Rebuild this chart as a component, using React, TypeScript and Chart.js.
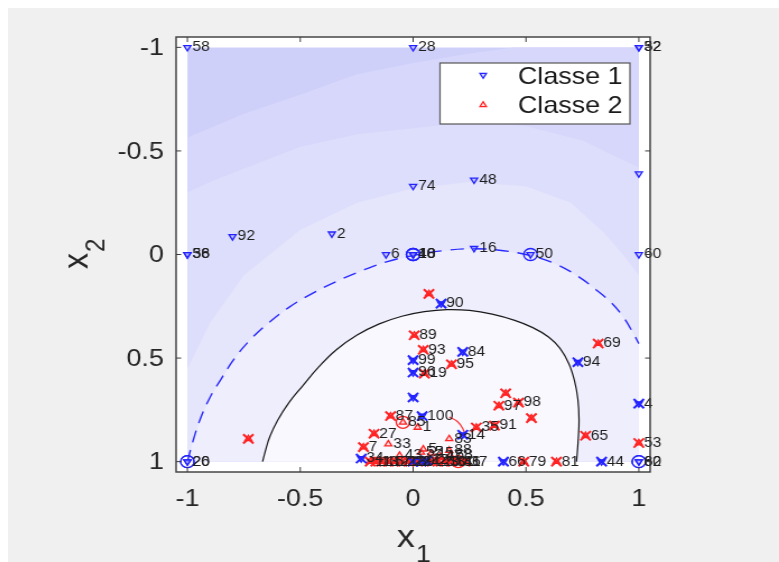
import React, { useEffect, useRef } from 'react';
import { Chart, registerables } from 'chart.js';

Chart.register(...registerables);

// ---------- data ----------
const xTicks = [-1, -0.5, 0, 0.5, 1];
const yTicks = [-1, -0.5, 0, 0.5, 1];
const tickLabels = ['-1', '-0.5', '0', '0.5', '1'];
const legendLabels = ['Classe 1', 'Classe 2'];
const axisTitleX = ['x', '1'];
const axisTitleY = ['x', '2'];

type P = [number, number, string];
type XY = [number, number];

// Classe 1, plain points
const class1Plain: P[] = [
  [-1, -1, '58'], [0, -1, '28'], [1, -1, '32'], [1, -1, '52'], [1, -0.39, ''],
  [0, -0.33, '74'], [0.27, -0.36, '48'], [-0.8, -0.087, '92'], [-0.36, -0.1, '2'],
  [-1, 0, '38'], [-1, 0, '56'], [-0.12, 0, '6'], [0.27, -0.03, '16'], [1, 0, '60'],
];
// Classe 1, circled points
const class1Circled: P[] = [
  [0, 0, '10'], [0, 0, '18'], [0, 0, '40'], [0.52, 0, '50'],
  [-1, 1, '20'], [-1, 1, '26'], [1, 1, '62'], [1, 1, '80'],
];
// Classe 1, support vectors
const class1SV: P[] = [
  [0.124, 0.237, '90'], [0.22, 0.47, '84'], [0.0, 0.51, '99'], [0.0, 0.57, '96'],
  [0.0, 0.69, ''], [0.04, 0.78, '100'], [0.22, 0.87, '14'], [1, 0.72, '4'],
  [0.4, 1, '66'], [0.835, 1, '44'], [-0.23, 0.985, '34'], [0.73, 0.52, '94'],
  [0.0, 1, '3'], [0.035, 1, '9'], [0.06, 0.995, '12'],
];
// Classe 2, plain points
const class2Plain: P[] = [
  [-0.11, 0.915, '33'], [0.02, 0.835, '1'], [0.16, 0.89, '83'], [0.16, 0.946, '88'],
  [0.165, 0.97, '68'], [0.045, 0.94, '5'], [0.035, 0.955, '55'], [0.08, 0.96, '45'],
  [-0.045, 0.81, '85'], [0.2, 1, '41'], [-0.06, 0.97, '43'], [0.12, 0.975, '47'],
];
// Classe 2, support vectors
const class2SV: P[] = [
  [0.07, 0.19, ''], [0.005, 0.39, '89'], [0.045, 0.46, '93'], [0.17, 0.53, '95'],
  [0.05, 0.575, '19'], [0.41, 0.67, ''], [0.38, 0.73, '97'], [0.467, 0.715, '98'],
  [0.524, 0.79, ''], [-0.1, 0.78, '87'], [-0.173, 0.865, '27'], [-0.22, 0.93, '7'],
  [0.28, 0.835, '35'], [0.36, 0.826, '91'], [0.764, 0.875, '65'], [0.82, 0.43, '69'],
  [1, 0.91, '53'], [0.49, 1, '79'], [0.635, 1, '81'], [-0.73, 0.89, ''],
  [-0.19, 1, '11'], [-0.165, 1, '13'], [-0.14, 1, '15'], [-0.11, 1, '17'],
  [-0.08, 1, '21'], [-0.05, 1, '22'], [-0.02, 1, '23'], [0.02, 1, '24'],
  [0.085, 1, '25'], [0.11, 1, '29'], [0.14, 1, '30'], [0.17, 1, '31'],
  [0.2, 1, '36'], [0.23, 1, '37'],
];
const redCircles: XY[] = [[-0.045, 0.81], [0.2, 1]];

// contour lines
const dashedContour: XY[] = [
  [-1, 1], [-0.975, 0.9], [-0.945, 0.8], [-0.9, 0.69], [-0.85, 0.6], [-0.79, 0.5],
  [-0.72, 0.41], [-0.64, 0.33], [-0.55, 0.255], [-0.45, 0.19], [-0.34, 0.13],
  [-0.22, 0.075], [-0.11, 0.033], [0, 0.005], [0.13, -0.018], [0.27, -0.028],
  [0.4, -0.018], [0.52, 0.005], [0.63, 0.045], [0.73, 0.105], [0.81, 0.17],
  [0.88, 0.235], [0.93, 0.3], [0.97, 0.37], [1.0, 0.43],
];
const solidContour: XY[] = [
  [-0.667, 1.0], [-0.655, 0.95], [-0.635, 0.88], [-0.6, 0.8], [-0.55, 0.715],
  [-0.49, 0.635], [-0.42, 0.545], [-0.34, 0.46], [-0.25, 0.39], [-0.15, 0.335],
  [-0.05, 0.298], [0.05, 0.276], [0.15, 0.266], [0.25, 0.27], [0.35, 0.288],
  [0.45, 0.318], [0.53, 0.353], [0.6, 0.398], [0.65, 0.452], [0.69, 0.527],
  [0.715, 0.61], [0.73, 0.7], [0.735, 0.8], [0.731, 0.9], [0.724, 1.0],
];
const redContour: XY[] = [[0.16, 0.785], [0.195, 0.805], [0.22, 0.84], [0.232, 0.88]];

// filled background bands (outer boundary of each lighter region)
const bandA: XY[] = [
  [-1, -0.565], [-0.75, -0.68], [-0.48, -0.78], [-0.25, -0.87], [0, -0.925], [0.25, -0.97], [0.45, -1.0],
];
const bandB: XY[] = [
  [-1, -0.3], [-0.88, -0.36], [-0.5, -0.52], [-0.25, -0.58], [0, -0.61], [0.25, -0.64],
  [0.5, -0.62], [0.75, -0.55], [1, -0.42],
];
const bandC: XY[] = [
  [-1, 0.55], [-0.9, 0.33], [-0.75, 0.1], [-0.5, -0.12], [-0.25, -0.25], [0, -0.32],
  [0.25, -0.35], [0.5, -0.33], [0.7, -0.25], [0.85, -0.1], [0.93, 0.0], [1, 0.1],
];
const bandBoundaries: XY[][] = [bandA, bandB, bandC, dashedContour, solidContour];
const bandColors = ['#cfd0fa', '#d6d7fb', '#dddefb', '#e5e5fc', '#eeeefd', '#f8f8fe'];

// ---------- styles ----------
const FONT = '"Liberation Sans", Arial, sans-serif';
const BLUE = '#2323ff';
const RED = '#ff2323';
const W = 688;
const H = 554;
const STRETCH = 771 / W;

const toXY = (arr: (P | XY)[]) => arr.map((p) => ({ x: p[0], y: p[1] }));

const bandsPlugin = {
  id: 'bands',
  beforeDatasetsDraw(chart: any) {
    const { ctx, chartArea, scales } = chart;
    const px = (v: number) => scales.x.getPixelForValue(v);
    const py = (v: number) => scales.y.getPixelForValue(v);
    ctx.save();
    ctx.fillStyle = '#ffffff';
    ctx.fillRect(chartArea.left, chartArea.top, chartArea.width, chartArea.height);
    ctx.beginPath();
    ctx.rect(px(-1), py(-1), px(1) - px(-1), py(1) - py(-1));
    ctx.clip();
    ctx.fillStyle = bandColors[0];
    ctx.fillRect(px(-1), py(-1), px(1) - px(-1), py(1) - py(-1));
    bandBoundaries.forEach((b, i) => {
      ctx.beginPath();
      b.forEach(([a, c], j) => (j ? ctx.lineTo(px(a), py(c)) : ctx.moveTo(px(a), py(c))));
      const last = b[b.length - 1];
      const first = b[0];
      if (last[1] <= -0.999) ctx.lineTo(px(1), py(-1));
      if (last[1] <= -0.999 || last[0] >= 0.999) ctx.lineTo(px(1), py(1));
      if (first[0] <= -0.999) ctx.lineTo(px(-1), py(1));
      ctx.closePath();
      ctx.fillStyle = bandColors[i + 1];
      ctx.fill();
    });
    ctx.restore();
  },
};

const labelsPlugin = {
  id: 'pointLabels',
  afterDatasetsDraw(chart: any) {
    const { ctx, scales } = chart;
    ctx.save();
    ctx.font = `14px ${FONT}`;
    ctx.fillStyle = '#1e1e1e';
    ctx.textBaseline = 'middle';
    ctx.textAlign = 'left';
    [class1Plain, class1Circled, class1SV, class2Plain, class2SV].forEach((arr) => {
      arr.forEach(([x, y, l]) => {
        if (!l) return;
        ctx.fillText(l, scales.x.getPixelForValue(x) + 4.5, scales.y.getPixelForValue(y));
      });
    });
    ctx.restore();
  },
};

const tri = (ctx: CanvasRenderingContext2D, x: number, y: number, r: number, down: boolean) => {
  const s = down ? -1 : 1;
  ctx.beginPath();
  ctx.moveTo(x, y - s * r);
  ctx.lineTo(x + r * 0.866, y + s * r * 0.5);
  ctx.lineTo(x - r * 0.866, y + s * r * 0.5);
  ctx.closePath();
};

const axesPlugin = {
  id: 'axesDecor',
  afterDraw(chart: any) {
    const { ctx, chartArea: a, scales } = chart;
    const px = (v: number) => scales.x.getPixelForValue(v);
    const py = (v: number) => scales.y.getPixelForValue(v);
    ctx.save();
    ctx.strokeStyle = '#3a3a3a';
    ctx.lineWidth = 1.4;
    ctx.strokeRect(a.left, a.top, a.right - a.left, a.bottom - a.top);
    ctx.lineWidth = 1;
    ctx.beginPath();
    xTicks.forEach((t) => {
      const x = px(t);
      ctx.moveTo(x, a.bottom); ctx.lineTo(x, a.bottom - 5);
      ctx.moveTo(x, a.top); ctx.lineTo(x, a.top + 5);
    });
    yTicks.forEach((t) => {
      const y = py(t);
      ctx.moveTo(a.left, y); ctx.lineTo(a.left + 4.5, y);
      ctx.moveTo(a.right, y); ctx.lineTo(a.right - 4.5, y);
    });
    ctx.stroke();

    ctx.fillStyle = '#262626';
    ctx.font = `24px ${FONT}`;
    ctx.textBaseline = 'middle';
    ctx.textAlign = 'center';
    xTicks.forEach((t, i) => ctx.fillText(tickLabels[i], px(t), 491));
    ctx.textAlign = 'right';
    yTicks.forEach((t, i) => ctx.fillText(tickLabels[i], 139, py(t) + 1));

    // axis titles
    ctx.textAlign = 'left';
    ctx.textBaseline = 'alphabetic';
    ctx.font = `32px ${FONT}`;
    ctx.fillText(axisTitleX[0], 347, 539);
    ctx.font = `24px ${FONT}`;
    ctx.fillText(axisTitleX[1], 364, 554);
    ctx.save();
    ctx.translate(70.5, 261);
    ctx.rotate(-Math.PI / 2);
    ctx.font = `32px ${FONT}`;
    ctx.fillText(axisTitleY[0], 0, 0);
    ctx.font = `24px ${FONT}`;
    ctx.fillText(axisTitleY[1], 17, 15.2);
    ctx.restore();

    // legend
    const lx = 385.5, ly = 55, lw = 169.5, lh = 61;
    ctx.fillStyle = '#ffffff';
    ctx.fillRect(lx, ly, lw, lh);
    ctx.strokeStyle = '#555555';
    ctx.lineWidth = 1.2;
    ctx.strokeRect(lx, ly, lw, lh);
    ctx.lineWidth = 1.2;
    ctx.strokeStyle = BLUE;
    ctx.fillStyle = 'rgba(140,140,255,0.35)';
    tri(ctx, 424, 67, 3.4, true); ctx.fill(); ctx.stroke();
    ctx.strokeStyle = RED;
    ctx.fillStyle = 'rgba(255,140,140,0.25)';
    tri(ctx, 424, 97, 3.4, false); ctx.fill(); ctx.stroke();
    ctx.fillStyle = '#1a1a1a';
    ctx.font = `24px ${FONT}`;
    ctx.fillText(legendLabels[0], 455, 76);
    ctx.fillText(legendLabels[1], 455, 105);
    ctx.restore();
  },
};

export default function App() {
  const ref = useRef<HTMLCanvasElement>(null);
  useEffect(() => {
    if (!ref.current) return;
    const chart = new Chart(ref.current, {
      type: 'scatter',
      data: {
        datasets: [
          {
            label: 'c1circle', data: toXY(class1Circled), pointStyle: 'circle', pointRadius: 6,
            borderColor: BLUE, backgroundColor: 'rgba(0,0,0,0)', borderWidth: 1.3, order: 1,
          },
          {
            label: 'c2circle', data: toXY(redCircles), pointStyle: 'circle', pointRadius: 6,
            borderColor: RED, backgroundColor: 'rgba(0,0,0,0)', borderWidth: 1.3, order: 1,
          },
          {
            label: 'c1sv', data: toXY(class1SV), pointStyle: 'crossRot', pointRadius: 6.5,
            borderColor: BLUE, borderWidth: 2, order: 2,
          },
          {
            label: 'c2sv', data: toXY(class2SV), pointStyle: 'crossRot', pointRadius: 6.5,
            borderColor: RED, borderWidth: 2, order: 3,
          },
          {
            label: legendLabels[0], data: toXY([...class1Plain, ...class1Circled, ...class1SV]),
            pointStyle: 'triangle', rotation: 180, pointRadius: 3.6, borderWidth: 1.3,
            borderColor: BLUE, backgroundColor: 'rgba(140,140,255,0.35)', order: 4,
          },
          {
            label: legendLabels[1], data: toXY([...class2Plain, ...class2SV]),
            pointStyle: 'triangle', pointRadius: 3.6, borderWidth: 1.3,
            borderColor: RED, backgroundColor: 'rgba(255,140,140,0.25)', order: 5,
          },
          {
            label: 'dashed', data: toXY(dashedContour), showLine: true, pointRadius: 0,
            borderColor: '#2a2aff', borderWidth: 1.4, borderDash: [12, 8], tension: 0.4, order: 8,
          },
          {
            label: 'solid', data: toXY(solidContour), showLine: true, pointRadius: 0,
            borderColor: '#1a1a1a', borderWidth: 1.2, tension: 0.4, order: 8,
          },
          {
            label: 'red', data: toXY(redContour), showLine: true, pointRadius: 0,
            borderColor: '#ff3030', borderWidth: 1.2, tension: 0.4, order: 8,
          },
        ] as any,
      },
      options: {
        responsive: false,
        animation: false,
        events: [],
        layout: { padding: { left: 150, right: W - 573, top: 29, bottom: H - 464 } },
        scales: {
          x: { type: 'linear', min: -1.05, max: 1.05, display: false },
          y: { type: 'linear', min: -1.05, max: 1.05, reverse: true, display: false },
        },
        plugins: { legend: { display: false }, tooltip: { enabled: false } },
      },
      plugins: [bandsPlugin, labelsPlugin, axesPlugin],
    });
    return () => chart.destroy();
  }, []);

  return (
    <div
      style={{
        position: 'fixed', left: 8, top: 8, width: 771, height: 554,
        background: '#f0f0f0', overflow: 'hidden',
      }}
    >
      <div style={{ width: W, height: H, transform: `scaleX(${STRETCH})`, transformOrigin: '0 0' }}>
        <canvas ref={ref} width={W} height={H} style={{ display: 'block', width: W, height: H }} />
      </div>
    </div>
  );
}
